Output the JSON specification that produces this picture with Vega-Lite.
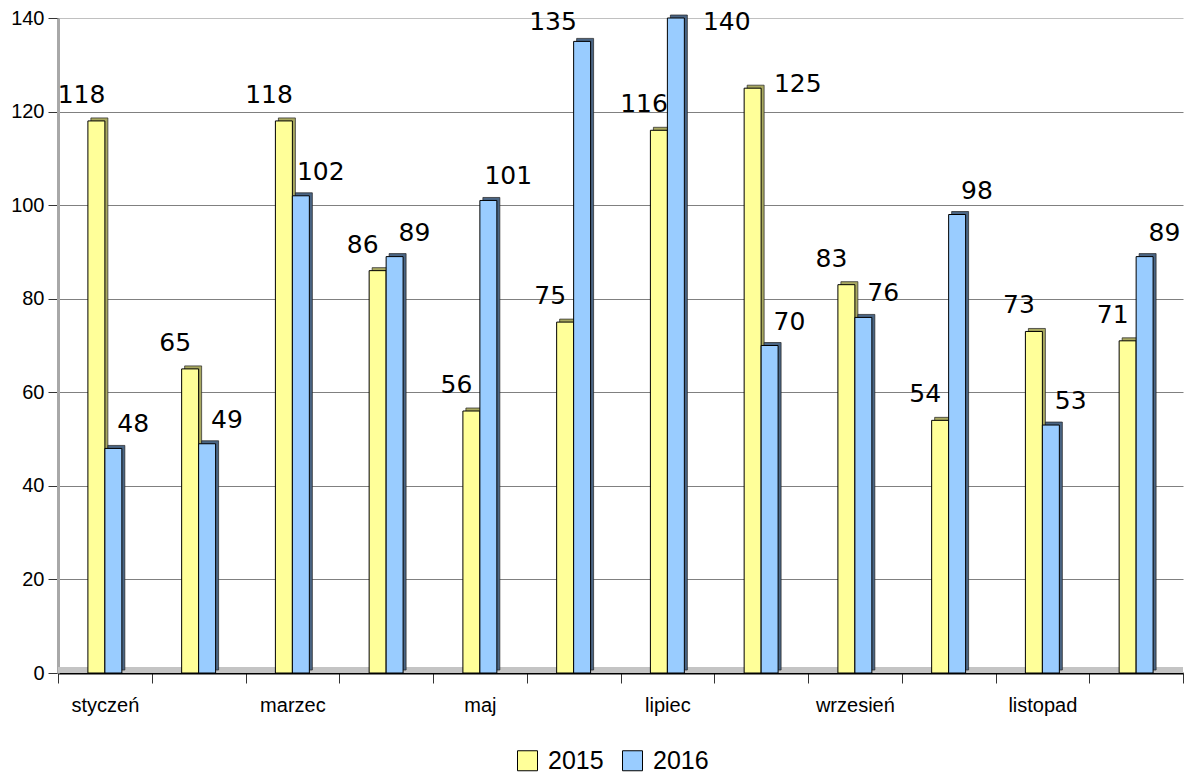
{
  "$schema": "https://vega.github.io/schema/vega-lite/v6.json",
  "width": 1125,
  "height": 655,
  "autosize": "none",
  "padding": {"left": 58, "top": 18, "right": 7, "bottom": 100},
  "background": "white",
  "config": {"view": {"stroke": null}, "font": "Liberation Sans"},
  "data": {
    "values": [
      {"month": "styczeń", "year": "2015", "value": 118},
      {"month": "styczeń", "year": "2016", "value": 48},
      {"month": "luty", "year": "2015", "value": 65},
      {"month": "luty", "year": "2016", "value": 49},
      {"month": "marzec", "year": "2015", "value": 118},
      {"month": "marzec", "year": "2016", "value": 102},
      {"month": "kwiecień", "year": "2015", "value": 86},
      {"month": "kwiecień", "year": "2016", "value": 89},
      {"month": "maj", "year": "2015", "value": 56},
      {"month": "maj", "year": "2016", "value": 101},
      {"month": "czerwiec", "year": "2015", "value": 75},
      {"month": "czerwiec", "year": "2016", "value": 135},
      {"month": "lipiec", "year": "2015", "value": 116},
      {"month": "lipiec", "year": "2016", "value": 140},
      {"month": "sierpień", "year": "2015", "value": 125},
      {"month": "sierpień", "year": "2016", "value": 70},
      {"month": "wrzesień", "year": "2015", "value": 83},
      {"month": "wrzesień", "year": "2016", "value": 76},
      {"month": "październik", "year": "2015", "value": 54},
      {"month": "październik", "year": "2016", "value": 98},
      {"month": "listopad", "year": "2015", "value": 73},
      {"month": "listopad", "year": "2016", "value": 53},
      {"month": "grudzień", "year": "2015", "value": 71},
      {"month": "grudzień", "year": "2016", "value": 89}
    ]
  },
  "resolve": {"scale": {"xOffset": "independent"}},
  "encoding": {
    "x": {
      "field": "month",
      "type": "nominal",
      "sort": ["styczeń", "luty", "marzec", "kwiecień", "maj", "czerwiec", "lipiec", "sierpień", "wrzesień", "październik", "listopad", "grudzień"],
      "scale": {"paddingInner": 0, "paddingOuter": 0},
      "title": null,
      "axis": {
        "labelAngle": 0,
        "labelExpr": "indexof(['styczeń','marzec','maj','lipiec','wrzesień','listopad'], datum.value) >= 0 ? datum.value : ''",
        "labelFont": "Liberation Sans",
        "labelFontSize": 20,
        "labelColor": "#000",
        "labelPadding": 12,
        "tickBand": "extent",
        "tickSize": 10,
        "tickColor": "#333",
        "domainColor": "#000",
        "domainWidth": 2,
        "grid": false
      }
    },
    "xOffset": {
      "field": "year",
      "type": "nominal",
      "scale": {"domain": ["_a", "2015", "2016", "_b"], "paddingInner": 0, "paddingOuter": 0.76}
    },
    "y": {
      "field": "value",
      "type": "quantitative",
      "scale": {"domain": [0, 140]},
      "title": null,
      "axis": {
        "values": [0, 20, 40, 60, 80, 100, 120, 140],
        "labelFont": "Liberation Sans",
        "labelFontSize": 20,
        "labelColor": "#000",
        "labelPadding": 4,
        "tickSize": 10,
        "tickColor": "#333",
        "domainColor": "#a8a8a8",
        "domainWidth": 3,
        "grid": true,
        "gridColor": {"condition": {"test": "datum.value == 140", "value": "#c0c0c0"}, "value": "#808080"},
        "gridWidth": 1
      }
    }
  },
  "layer": [
    {
      "mark": {"type": "rule", "color": "#c4c4c4", "strokeWidth": 5, "yOffset": -3},
      "encoding": {"y": {"datum": 0}, "x": null, "xOffset": null}
    },
    {
      "mark": {"type": "bar", "yOffset": -3, "stroke": "#222", "strokeWidth": 0.7},
      "encoding": {
        "xOffset": {
          "field": "year",
          "type": "nominal",
          "scale": {"domain": ["_a", "2015", "2016", "_b"], "paddingInner": 0, "paddingOuter": 0.76, "range": [3, 96.75]}
        },
        "fill": {"condition": {"test": "datum.year == '2015'", "value": "#a8a860"}, "value": "#4a6584"}
      }
    },
    {
      "mark": {"type": "bar", "stroke": "#000", "strokeWidth": 1},
      "encoding": {
        "fill": {
          "field": "year",
          "type": "nominal",
          "scale": {"domain": ["2015", "2016"], "range": ["#ffff99", "#99ccff"]},
          "legend": {
            "title": null,
            "orient": "none",
            "direction": "horizontal",
            "legendX": 457,
            "legendY": 730,
            "symbolType": "square",
            "symbolSize": 400,
            "symbolStrokeColor": "#000",
            "symbolStrokeWidth": 1,
            "labelFont": "Liberation Sans",
            "labelFontSize": 25,
            "labelColor": "#000",
            "labelOffset": 8,
            "columnPadding": 16
          }
        }
      }
    },
    {
      "transform": [{"filter": "datum.year == '2015' && datum.month != 'sierpień'"}],
      "mark": {"type": "text", "font": "DejaVu Sans", "fontSize": 25, "baseline": "alphabetic", "dx": -13, "dy": -18, "color": "#000"},
      "encoding": {"text": {"field": "value", "type": "quantitative"}}
    },
    {
      "transform": [{"filter": "datum.year == '2015' && datum.month == 'sierpień'"}],
      "mark": {"type": "text", "font": "DejaVu Sans", "fontSize": 25, "baseline": "alphabetic", "dx": 47, "dy": 4, "color": "#000"},
      "encoding": {"text": {"field": "value", "type": "quantitative"}}
    },
    {
      "transform": [{"filter": "datum.year == '2016' && datum.month != 'czerwiec' && datum.month != 'lipiec'"}],
      "mark": {"type": "text", "font": "DejaVu Sans", "fontSize": 25, "baseline": "alphabetic", "dx": 18, "dy": -16, "color": "#000"},
      "encoding": {"text": {"field": "value", "type": "quantitative"}}
    },
    {
      "transform": [{"filter": "datum.year == '2016' && datum.month == 'czerwiec'"}],
      "mark": {"type": "text", "font": "DejaVu Sans", "fontSize": 25, "baseline": "alphabetic", "dx": -31, "dy": -11, "color": "#000"},
      "encoding": {"text": {"field": "value", "type": "quantitative"}}
    },
    {
      "transform": [{"filter": "datum.year == '2016' && datum.month == 'lipiec'"}],
      "mark": {"type": "text", "font": "DejaVu Sans", "fontSize": 25, "baseline": "alphabetic", "dx": 49, "dy": 12, "color": "#000"},
      "encoding": {"text": {"field": "value", "type": "quantitative"}}
    }
  ]
}
